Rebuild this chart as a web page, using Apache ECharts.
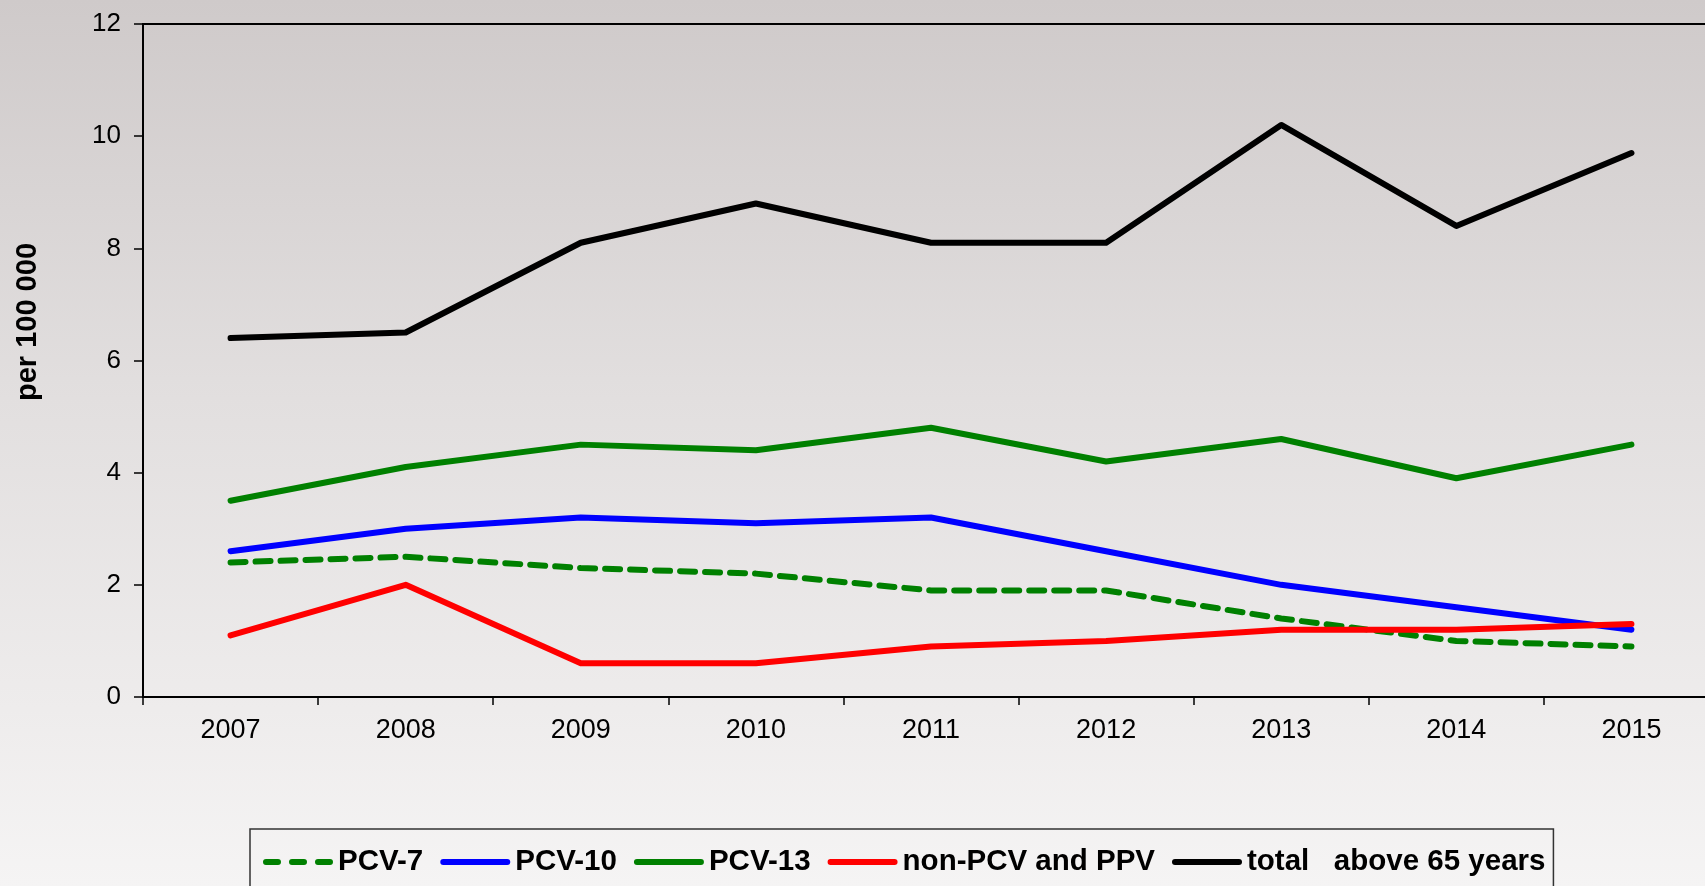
<!DOCTYPE html>
<html>
<head>
<meta charset="utf-8">
<script src="https://cdn.jsdelivr.net/npm/echarts@6/dist/echarts.min.js"></script>
<style>
html,body{margin:0;padding:0;width:1705px;height:886px;overflow:hidden;}
#chart{width:1760px;height:886px;}
</style>
</head>
<body>
<div id="chart"></div>
<script>
const years = ['2007','2008','2009','2010','2011','2012','2013','2014','2015'];
const pcv7 = [2.4, 2.5, 2.3, 2.2, 1.9, 1.9, 1.4, 1.0, 0.9];
const pcv10 = [2.6, 3.0, 3.2, 3.1, 3.2, 2.6, 2.0, 1.6, 1.2];
const pcv13 = [3.5, 4.1, 4.5, 4.4, 4.8, 4.2, 4.6, 3.9, 4.5];
const nonPcv = [1.1, 2.0, 0.6, 0.6, 0.9, 1.0, 1.2, 1.2, 1.3];
const total = [6.4, 6.5, 8.1, 8.8, 8.1, 8.1, 10.2, 8.4, 9.7];
const seriesNames = ['PCV-7', 'PCV-10', 'PCV-13', 'non-PCV and PPV', 'total   above 65 years'];
const yTitle = 'per 100 000';

const FONT = '"Liberation Sans", Arial, sans-serif';
const chart = echarts.init(document.getElementById('chart'), null, {renderer: 'canvas'});

function lineSeries(name, data, color, dashed) {
  return {
    name: name,
    type: 'line',
    data: data,
    symbol: 'none',
    animation: false,
    itemStyle: {color: color},
    lineStyle: {
      color: color,
      width: 6,
      type: dashed ? [15, 10] : 'solid',
      cap: 'round',
      join: 'round'
    }
  };
}

const dashIcon = 'path://M3,0h12a3,3 0 0 1 0,6h-12a3,3 0 0 1 0,-6z M29,0h12a3,3 0 0 1 0,6h-12a3,3 0 0 1 0,-6z M55,0h12a3,3 0 0 1 0,6h-12a3,3 0 0 1 0,-6z';
const solidIcon = 'path://M3,0h64a3,3 0 0 1 0,6h-64a3,3 0 0 1 0,-6z';

chart.setOption({
  animation: false,
  backgroundColor: {
    type: 'linear', x: 0, y: 0, x2: 0, y2: 1,
    colorStops: [
      {offset: 0, color: '#cfcaca'},
      {offset: 0.45, color: '#e2dfdf'},
      {offset: 0.8, color: '#eeecec'},
      {offset: 1, color: '#f5f4f4'}
    ]
  },
  grid: {
    left: 143, top: 24, width: 1576, height: 673,
    show: true, borderColor: '#000', borderWidth: 2, backgroundColor: 'transparent'
  },
  graphic: [{
    type: 'text',
    x: 28, y: 322,
    rotation: Math.PI / 2,
    style: {
      text: yTitle,
      font: 'bold 29px ' + FONT,
      fill: '#000',
      textAlign: 'center',
      textVerticalAlign: 'middle'
    }
  }],
  legend: {
    left: 250, top: 829,
    padding: [18, 8, 30, 13],
    borderColor: '#333',
    borderWidth: 1.5,
    backgroundColor: 'transparent',
    itemWidth: 70,
    itemHeight: 6,
    itemGap: 17,
    textStyle: {fontFamily: FONT, fontSize: 29.5, fontWeight: 'bold', color: '#000'},
    data: seriesNames.map((n, i) => ({name: n, icon: i === 0 ? dashIcon : solidIcon}))
  },
  xAxis: {
    type: 'category',
    data: years,
    boundaryGap: true,
    axisLine: {lineStyle: {color: '#000', width: 2}},
    axisTick: {show: true, length: 8, lineStyle: {color: '#000', width: 1.5}},
    axisLabel: {fontFamily: FONT, fontSize: 27, color: '#000', margin: 20},
    splitLine: {show: false}
  },
  yAxis: {
    type: 'value',
    min: 0, max: 12, interval: 2,
    axisLine: {show: true, lineStyle: {color: '#000', width: 2}},
    axisTick: {show: true, length: 9, lineStyle: {color: '#000', width: 1.5}},
    axisLabel: {fontFamily: FONT, fontSize: 26, color: '#000', margin: 22},
    splitLine: {show: false}
  },
  series: [
    lineSeries(seriesNames[0], pcv7, '#008000', true),
    lineSeries(seriesNames[1], pcv10, '#0000ff', false),
    lineSeries(seriesNames[2], pcv13, '#008000', false),
    lineSeries(seriesNames[3], nonPcv, '#ff0000', false),
    lineSeries(seriesNames[4], total, '#000000', false)
  ]
});
</script>
</body>
</html>
